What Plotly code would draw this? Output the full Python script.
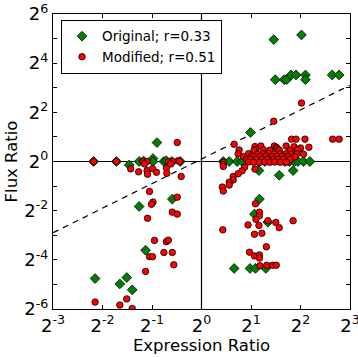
import numpy as np
import plotly.graph_objects as go

# ---- data (log2 of ratios) ----
orig_log2_x = [-2.18, -1.72, -1.26, -1.17, -0.98, -0.90, -0.76, -0.71, -0.60, -0.43, -1.46, -0.98,
               -1.26, -0.59, -1.13, -2.15, -1.51, -1.65, -1.40,
               1.46, 2.02, 1.49, 1.67, 1.72, 1.81, 1.91, 2.10, 2.10, 2.64, 2.78,
               0.99,
               0.44, 0.56, 0.72, 0.82, 1.15, 1.28, 1.68, 1.78, 1.88, 1.95, 2.06, 2.19,
               1.16, 1.57, 1.85, 1.17, 1.07, 1.34, 0.66, 0.98, 1.09, 1.30]
orig_log2_y = [0.0, 0.0, 0.0, 0.02, 0.12, 0.77, 0.0, 0.03, 0.0, 0.0, -0.14, 0.0,
               -1.83, -1.53, -3.61, -4.76, -4.72, -4.98, -5.22,
               4.96, 5.15, 3.33, 3.33, 3.33, 3.52, 3.52, 3.52, 3.33, 3.52, 3.52,
               1.18,
               0.0, 0.0, 0.0, 0.0, 0.0, 0.0, 0.0, 0.0, 0.0, 0.0, 0.0, 0.0,
               -0.37, -0.56, -0.37, -1.53, -2.14, -2.47, -4.35, -4.35, -4.35, -4.35]

mod_log2_x = [-2.18, -1.72, -1.18, -1.10, -0.66, -0.58, -0.47, -0.44,
              -0.49,
              -1.43, -1.27, -1.15, -1.10, -1.09, -0.99, -0.91, -0.71, -0.70, -0.41, -0.62,
              -1.05, -0.98, -1.01, -1.09, -0.49, -0.59, -0.49, -0.95, -0.71, -0.67, -1.05, -0.99,
              -0.76, -0.59, -0.56, -1.13, -2.15, -1.65, -1.51, -1.40,
              2.02, 1.46, 0.66, 1.82, 1.91, 2.09, 2.65, 2.78,
              1.08, 1.20, 1.47, 1.51, 1.71, 1.87, 2.00, 2.17, 1.53, 1.10,
              0.76, 1.06, 1.25, 1.38, 1.57, 1.79, 1.94,
              0.74, 0.95, 1.13, 1.24, 1.35, 1.47, 1.59, 1.71, 1.81, 1.92, 2.06,
              0.85, 1.01, 1.05, 1.18, 1.30, 1.42, 1.52, 1.63, 1.75, 1.89,
              0.91, 0.98, 1.10, 1.22, 1.33, 1.45, 1.55, 1.65, 1.79,
              0.44, 0.95, 1.05, 1.17, 1.28, 1.38, 1.48, 1.59, 1.72,
              0.44, 0.44, 1.08, 0.87, 0.82, 0.74, 0.64, 0.64, 0.56, 0.56, 0.42, 0.44,
              1.09, 1.17, 1.17, 1.10, 1.34, 1.50, 1.57, 1.85, 0.94, 1.16, 0.43, 1.07, 1.22,
              1.31, 0.97, 1.07, 1.17, 1.17, 1.18, 1.32, 1.44, 1.51]
mod_log2_y = [0.0, 0.0, 0.0, 0.0, 0.0, 0.0, 0.03, 0.0,
              0.77,
              -0.30, -0.42, -0.10, -0.37, -0.52, -0.29, -0.44, -0.27, -0.48, -0.61, -0.10,
              -1.22, -1.65, -1.74, -2.31, -1.45, -2.06, -2.14, -3.21, -3.26, -3.20, -3.87, -3.87,
              -3.70, -3.70, -4.20, -4.47, -5.72, -5.84, -5.59, -5.98,
              2.38, 1.64, 0.70, 0.91, 0.91, 0.91, 0.91, 0.91,
              0.61, 0.63, 0.63, 0.58, 0.63, 0.60, 0.55, 0.58, 0.52, 0.50,
              0.47, 0.45, 0.48, 0.46, 0.47, 0.45, 0.47,
              0.31, 0.32, 0.30, 0.31, 0.33, 0.30, 0.31, 0.32, 0.30, 0.31, 0.30,
              0.20, 0.21, 0.19, 0.20, 0.22, 0.19, 0.20, 0.21, 0.20, 0.19,
              0.09, 0.10, 0.08, 0.09, 0.10, 0.08, 0.09, 0.10, 0.09,
              -0.03, -0.02, -0.03, -0.04, -0.02, -0.03, -0.02, -0.03, -0.03,
              -0.12, -0.20, -0.31, -0.23, -0.38, -0.50, -0.61, -0.75, -0.84, -0.96, -1.04, -1.20,
              -1.72, -2.06, -2.21, -2.35, -2.41, -2.48, -2.69, -2.41, -2.58, -2.60, -2.78, -2.96, -2.92,
              -3.47, -3.69, -3.84, -3.80, -3.93, -4.24, -4.22, -4.22, -4.22]

series_names = ["Original; r=0.33", "Modified; r=0.51"]
fit_slope = 1.0       # dashed reference line in log2-log2 space
fit_intercept = 0.1
x_exponents = [-3, -2, -1, 0, 1, 2, 3]
y_exponents = list(range(-6, 7))
y_label_exponents = [-6, -4, -2, 0, 2, 4, 6]

# ---- build ----
ox = np.power(2.0, orig_log2_x)
oy = np.power(2.0, orig_log2_y)
mx = np.power(2.0, mod_log2_x)
my = np.power(2.0, mod_log2_y)

xmin, xmax = 2.0 ** x_exponents[0], 2.0 ** x_exponents[-1]
ymin, ymax = 2.0 ** y_exponents[0], 2.0 ** y_exponents[-1]

fig = go.Figure()

# reference lines at ratio 1
fig.add_trace(go.Scatter(x=[xmin, xmax], y=[1, 1], mode="lines",
                         line=dict(color="black", width=1.2), showlegend=False, hoverinfo="skip"))
fig.add_trace(go.Scatter(x=[1, 1], y=[ymin, ymax], mode="lines",
                         line=dict(color="black", width=1.2), showlegend=False, hoverinfo="skip"))
fx = np.array([x_exponents[0], x_exponents[-1]], dtype=float)
fy = fit_slope * fx + fit_intercept
fig.add_trace(go.Scatter(x=np.power(2.0, fx), y=np.power(2.0, fy), mode="lines",
                         line=dict(color="black", width=1.2, dash="6px,5px"),
                         showlegend=False, hoverinfo="skip"))

fig.add_trace(go.Scatter(x=ox, y=oy, mode="markers", name=series_names[0],
                         marker=dict(symbol="diamond", color="#008000", size=7.5,
                                     line=dict(color="black", width=0.8))))
fig.add_trace(go.Scatter(x=mx, y=my, mode="markers", name=series_names[1],
                         marker=dict(symbol="circle", color="#ff0000", size=6.5,
                                     line=dict(color="black", width=0.8))))

font_family = "DejaVu Sans"
xt_text = [f"2<sup>{e}</sup>" for e in x_exponents]
yt_text = [f"2<sup>{e}</sup>" if e in y_label_exponents else "" for e in y_exponents]

fig.update_layout(
    width=358, height=357,
    margin=dict(l=53, r=8, t=14, b=48),
    paper_bgcolor="white", plot_bgcolor="white",
    font=dict(family=font_family, color="black", size=17),
    showlegend=True,
    legend=dict(x=0.027, y=0.98, xanchor="left", yanchor="top",
                bgcolor="white", bordercolor="black", borderwidth=1,
                font=dict(size=13.5, family=font_family), tracegroupgap=0,
                itemsizing="trace"),
    xaxis=dict(type="log", range=[np.log10(xmin), np.log10(xmax)], automargin=False,
               tickvals=[2.0 ** e for e in x_exponents], ticktext=xt_text,
               ticklabeloverflow="allow",
               ticks="inside", ticklen=4, tickcolor="black", mirror="allticks",
               showline=True, linecolor="black", linewidth=1.2, showgrid=False,
               zeroline=False, tickfont=dict(size=18),
               title=dict(text="Expression Ratio", font=dict(size=16.5), standoff=2)),
    yaxis=dict(type="log", range=[np.log10(ymin), np.log10(ymax)], automargin=False,
               tickvals=[2.0 ** e for e in y_exponents], ticktext=yt_text,
               ticklabeloverflow="allow",
               ticks="inside", ticklen=4, tickcolor="black", mirror="allticks",
               showline=True, linecolor="black", linewidth=1.2, showgrid=False,
               zeroline=False, tickfont=dict(size=18),
               title=dict(text="Flux Ratio", font=dict(size=16.5), standoff=2)),
)

# remove the browser's default 8px body margin so the figure fills the window
fig.write_html("out.html",
               config={"displayModeBar": False},
               post_script="document.body.style.margin='0';document.body.style.overflow='hidden';")
